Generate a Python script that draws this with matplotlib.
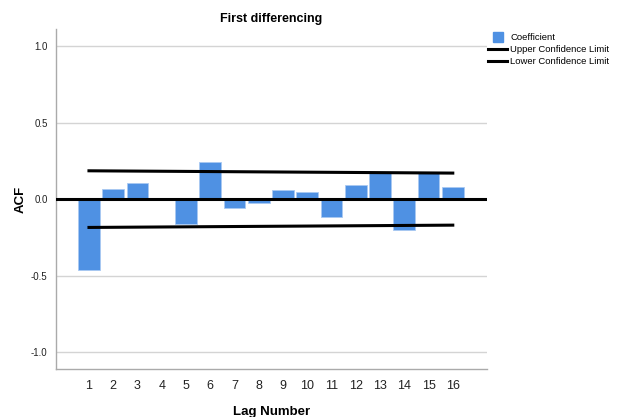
import matplotlib.pyplot as plt
from matplotlib.lines import Line2D

plt.rcParams['font.family'] = ['Liberation Sans', 'DejaVu Sans']

# ACF degerleri
lags = [1, 2, 3, 4, 5, 6, 7, 8, 9, 10, 11, 12, 13, 14, 15, 16]
acf = [-0.46, 0.065, 0.105, 0.0, -0.165, 0.245, -0.06, -0.025,
       0.06, 0.048, -0.12, 0.09, 0.17, -0.20, 0.17, 0.08]
upper = [0.185, 0.184, 0.183, 0.182, 0.181, 0.180, 0.179, 0.178,
         0.177, 0.176, 0.175, 0.174, 0.173, 0.172, 0.171, 0.170]
lower = [-0.185, -0.184, -0.183, -0.182, -0.181, -0.180, -0.179, -0.178,
         -0.177, -0.176, -0.175, -0.174, -0.173, -0.172, -0.171, -0.170]
yticks = [-1.0, -0.5, 0.0, 0.5, 1.0]

fig = plt.figure(figsize=(6.18, 4.17), dpi=100)
ax = fig.add_axes([0.0906, 0.115, 0.697, 0.815])

ax.bar(lags, acf, width=0.9, color='#4F91E3', edgecolor='#A9C9F2',
       linewidth=0.6, zorder=2)
ax.plot(lags, upper, color='black', lw=2.2, zorder=3)
ax.plot(lags, lower, color='black', lw=2.2, zorder=3)
ax.axhline(0, color='black', lw=2.2, zorder=3)

ax.set_xlim(-0.36, 17.4)
ax.set_ylim(-1.11, 1.11)
ax.set_xticks(lags)
ax.set_xticklabels([str(l) for l in lags], fontsize=9, color='#222222')
ax.set_yticks(yticks)
ax.set_yticklabels(['%.1f' % v for v in yticks], fontsize=7, color='#222222')
ax.tick_params(length=0, pad=6)
ax.tick_params(axis='x', pad=8)
ax.yaxis.grid(True, color='#D4D4D4', lw=1)
ax.set_axisbelow(True)

for s in ['top', 'right']:
    ax.spines[s].set_visible(False)
for s in ['left', 'bottom']:
    ax.spines[s].set_color('#AAAAAA')
    ax.spines[s].set_linewidth(1)

ax.set_title('First differencing', fontsize=9, fontweight='bold', pad=5)
ax.set_xlabel('Lag Number', fontsize=9.5, fontweight='bold', labelpad=10)
ax.set_ylabel('ACF', fontsize=9.5, fontweight='bold', labelpad=3)

handles = [
    Line2D([], [], marker='s', color='#4F91E3', linestyle='None', markersize=7),
    Line2D([], [], color='black', lw=2.2),
    Line2D([], [], color='black', lw=2.2),
]
labels = ['Coefficient', 'Upper Confidence Limit', 'Lower Confidence Limit']
fig.legend(handles, labels, loc='upper left', bbox_to_anchor=(0.79, 0.92),
           frameon=False, fontsize=6.8, handlelength=2.0, handletextpad=0.35,
           labelspacing=0.3, borderaxespad=0, borderpad=0)

fig.savefig('out.png', dpi=100, facecolor='white')
